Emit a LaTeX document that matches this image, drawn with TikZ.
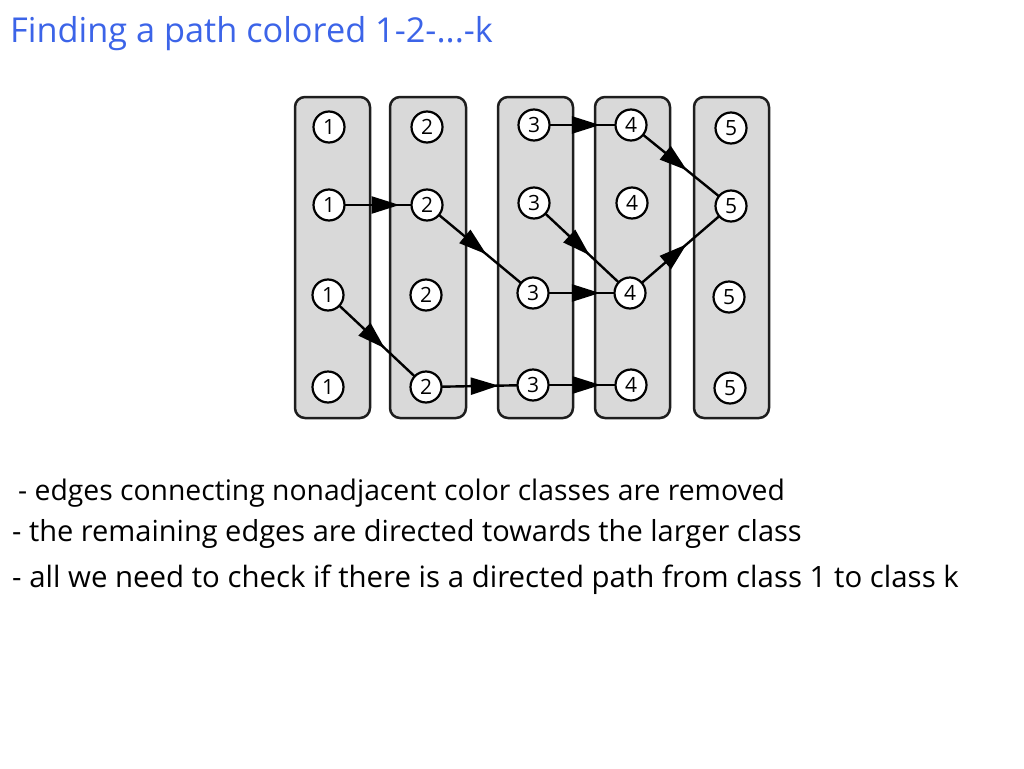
\documentclass[tikz,border=0pt]{standalone}
\usepackage{fontspec}
\setmainfont{Open Sans}
\newfontfamily\numfont{Open Sans}
\usetikzlibrary{arrows.meta,decorations.markings}
\definecolor{titleblue}{RGB}{60,100,232}
\definecolor{boxgray}{RGB}{217,217,217}
\definecolor{boxline}{RGB}{30,30,30}
\pgfdeclarelayer{bglayer}
\pgfdeclarelayer{edgelayer}
\pgfsetlayers{bglayer,edgelayer,main}
\tikzset{
  colbox/.style={draw=boxline, fill=boxgray, line width=2.5pt, rounded corners=10pt, minimum width=75pt, minimum height=321pt, inner sep=0pt},
  num/.style={circle, draw=black, fill=white, line width=2.2pt, minimum size=31pt, inner sep=0pt, font=\numfont\fontsize{21}{21}\selectfont},
  edge/.style={line width=2.4pt, postaction={decorate}, decoration={markings, mark=at position #1 with {\arrow{Triangle[length=28pt,width=17pt]}}}},
  txt/.style={anchor=base west, inner sep=0pt}
}
\begin{document}
\begin{tikzpicture}[x=1pt,y=-1pt]
\useasboundingbox (0,0) rectangle (1024,768);
% title
\node[anchor=base west, inner sep=0pt, text=titleblue, font=\fontsize{34.3}{34.3}\selectfont] (title) at (10,42) {Finding a path colored 1-2-...-k};
% boxes
\begin{pgfonlayer}{bglayer}
\node[colbox] (box1) at (332.5,257.5) {};
\node[colbox, minimum width=76pt] (box2) at (428,257.5) {};
\node[colbox] (box3) at (535.5,257.5) {};
\node[colbox] (box4) at (632.5,257.5) {};
\node[colbox] (box5) at (731.5,257.5) {};
\end{pgfonlayer}
% nodes
\node[num] (a1) at (329,127) {1};
\node[num] (b1) at (329,205) {1};
\node[num] (c1) at (328,295) {1};
\node[num] (d1) at (328,387) {1};
\node[num] (a2) at (427,127) {2};
\node[num] (b2) at (427,205) {2};
\node[num] (c2) at (426,295) {2};
\node[num] (d2) at (426,387) {2};
\node[num] (a3) at (534,125) {3};
\node[num] (b3) at (534,203) {3};
\node[num] (c3) at (533,293) {3};
\node[num] (d3) at (533,385) {3};
\node[num] (a4) at (631,125) {4};
\node[num] (b4) at (632,203) {4};
\node[num] (c4) at (630,293) {4};
\node[num] (d4) at (631,385) {4};
\node[num] (a5) at (731,128) {5};
\node[num] (b5) at (731,206) {5};
\node[num] (c5) at (729,297) {5};
\node[num] (d5) at (730,388) {5};
% edges
\begin{pgfonlayer}{edgelayer}
\draw[edge=0.72] (b1.center) -- (b2.center);
\draw[edge=0.56] (b2.center) -- (c3.center);
\draw[edge=0.58] (c1.center) -- (d2.center);
\draw[edge=0.68] (d2.center) -- (d3.center);
\draw[edge=0.68] (a3.center) -- (a4.center);
\draw[edge=0.58] (b3.center) -- (c4.center);
\draw[edge=0.69] (c3.center) -- (c4.center);
\draw[edge=0.69] (d3.center) -- (d4.center);
\draw[edge=0.56] (a4.center) -- (b5.center);
\draw[edge=0.56] (c4.center) -- (b5.center);
\end{pgfonlayer}
% text
\node[txt, font=\fontsize{28.3}{28.3}\selectfont] (t1) at (18,500) {- edges connecting nonadjacent color classes are removed};
\node[txt, font=\fontsize{29}{29}\selectfont] (t2) at (12,541) {- the remaining edges are directed towards the larger class};
\node[txt, font=\fontsize{29.4}{29.4}\selectfont] (t3) at (12,587) {- all we need to check if there is a directed path from class 1 to class k};
\end{tikzpicture}
\end{document}
